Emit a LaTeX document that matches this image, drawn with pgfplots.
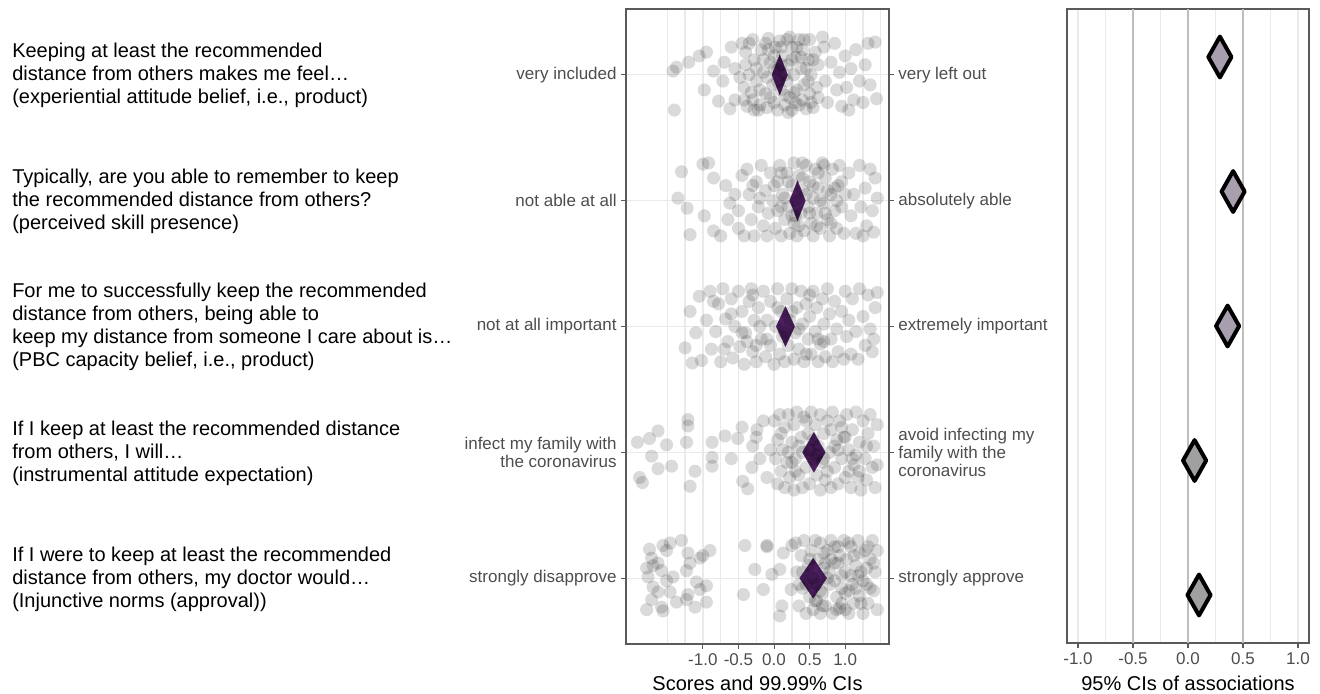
\documentclass[border=0pt]{standalone}
\usepackage{fontspec}
\setmainfont{Liberation Sans}
\usepackage{pgfplots}
\pgfplotsset{compat=1.18}

\definecolor{tickgray}{RGB}{77,77,77}
\definecolor{framegray}{RGB}{90,90,90}
\definecolor{gridlight}{RGB}{234,234,234}
\definecolor{griddark}{RGB}{190,190,190}
\definecolor{meanpurple}{RGB}{77,31,97}
\definecolor{lavgray}{RGB}{168,158,174}
\definecolor{midgray}{RGB}{160,160,160}

\newcommand\qfont{\fontsize{15}{17.25}\selectfont}
\newcommand\tfont{\fontsize{12.75}{13.2}\selectfont}

\pgfplotsset{
  pts/.style={only marks, mark=*, mark size=4.9pt,
    mark options={fill=black, draw=black, fill opacity=0.145, draw opacity=0, line width=0pt}},
  meandia/.style={fill=meanpurple, draw=meanpurple, line width=0.2pt, mark=none},
  panel/.style={scale only axis, clip=false,
    axis line style={draw=framegray, line width=0.8pt},
    tick align=outside, major tick length=3.5pt, minor tick length=0pt,
    tick style={draw=framegray, line width=0.8pt},
    ticklabel style={font=\tfont, text=tickgray},
    /pgf/number format/fixed, /pgf/number format/fixed zerofill,
    /pgf/number format/precision=1, /pgf/number format/assume math mode=true,
    xlabel style={font=\qfont, text=black, at={(axis description cs:0.5,0)}, anchor=base},
  },
}

\begin{document}
\begin{tikzpicture}
\useasboundingbox (0,0) rectangle (990pt,-519.75pt);

% question texts
\node[anchor=west, align=left, inner sep=0, font=\qfont] at (12*0.75pt,-75*0.75pt)
  {Keeping at least the recommended\\distance from others makes me feel…\\(experiential attitude belief, i.e., product)};
\node[anchor=west, align=left, inner sep=0, font=\qfont] at (12*0.75pt,-201*0.75pt)
  {Typically, are you able to remember to keep\\the recommended distance from others?\\(perceived skill presence)};
\node[anchor=west, align=left, inner sep=0, font=\qfont] at (12*0.75pt,-327*0.75pt)
  {For me to successfully keep the recommended\\distance from others, being able to\\keep my distance from someone I care about is…\\(PBC capacity belief, i.e., product)};
\node[anchor=west, align=left, inner sep=0, font=\qfont] at (12*0.75pt,-453*0.75pt)
  {If I keep at least the recommended distance\\from others, I will…\\(instrumental attitude expectation)};
\node[anchor=west, align=left, inner sep=0, font=\qfont] at (12*0.75pt,-579*0.75pt)
  {If I were to keep at least the recommended\\distance from others, my doctor would…\\(Injunctive norms (approval))};

% middle panel: scores
\begin{axis}[panel,
  at={(626*0.75pt,-644*0.75pt)}, anchor=south west,
  width=197.25pt, height=476.25pt,
  xmin=-2.08, xmax=1.615, ymin=0.477, ymax=5.523,
  xtick={-1,-0.5,0,0.5,1},
  minor xtick={-1.5,-1.25,-0.75,-0.25,0.25,0.75,1.25,1.5},
  xmajorgrids, xminorgrids, ymajorgrids,
  major grid style={draw=gridlight, line width=1pt},
  minor grid style={draw=gridlight, line width=1pt},
  xtick pos=bottom, ytick pos=left,
  ytick={1,2,3,4,5},
  yticklabels={strongly disapprove, {infect my family with\\the coronavirus}, not at all important, not able at all, very included},
  yticklabel style={align=right},
  xlabel={Scores and 99.99\% CIs},
  xlabel style={yshift=-34.5pt},
]
% row 5 (top): experiential attitude
\addplot[pts] coordinates {
(-1.42,5.03) (-1.37,5.06) (-1.40,4.72) (-1.20,5.10) (-1.05,5.15) (-0.95,5.18) (-0.98,4.88) (-0.72,4.95)
(-0.70,5.10) (-0.60,5.22) (-0.55,4.80) (-0.78,4.79) (-0.62,4.73) (-0.85,5.03) (-0.55,5.05)
(-0.45,5.25) (-0.40,5.08) (-0.42,4.90) (-0.38,4.75) (-0.30,5.28) (-0.28,5.12) (-0.25,4.95) (-0.30,4.80)
(-0.22,4.72) (-0.18,5.20) (-0.15,5.02) (-0.12,4.85) (-0.10,4.74) (-0.08,5.29) (-0.05,5.10) (-0.02,4.92)
(0.00,4.78) (0.02,5.22) (0.05,5.04) (0.05,4.72) (0.08,5.27) (0.10,4.88) (0.12,5.15) (0.15,4.76)
(0.18,5.28) (0.18,4.95) (0.20,5.08) (0.22,4.82) (0.25,5.22) (0.25,4.72) (0.28,5.00) (0.30,5.14)
(0.32,4.88) (0.35,5.28) (0.35,4.76) (0.38,5.05) (0.40,5.20) (0.42,4.92) (0.45,4.73) (0.48,5.12)
(0.50,5.28) (0.50,4.85) (0.52,5.00) (0.55,4.74) (0.58,5.18) (0.60,4.90) (0.62,5.08) (-0.35,5.00)
(-0.20,4.88) (0.00,5.15) (0.15,5.00) (0.30,4.78) (0.45,5.05) (-0.10,4.98) (0.20,4.70)
(0.70,5.22) (0.72,4.95) (0.75,4.78) (0.80,5.10) (0.85,5.25) (0.88,4.88) (0.92,5.02) (0.95,4.75)
(1.00,5.15) (1.02,4.90) (1.08,5.05) (1.12,4.80) (1.15,5.20) (1.20,4.95) (1.25,4.78) (1.28,5.08)
(1.32,5.25) (1.35,4.92) (1.42,5.26) (1.44,4.81) (0.68,5.30) (1.05,4.72)
(-0.40,5.18) (-0.32,4.86) (-0.15,5.12) (-0.05,4.82) (0.10,5.08) (0.28,4.86) (0.40,4.80) (0.55,5.12)
(-0.48,4.98) (-0.25,5.05) (0.05,4.95) (0.32,5.22) (0.48,4.95) (0.62,4.82) (-0.12,5.25) (0.22,5.30)
(-0.35,5.25) (-0.20,4.76) (0.00,5.05) (0.15,4.84) (0.38,5.14) (0.52,4.78) (-0.42,4.80) (0.25,5.12)
(-0.08,5.20) (0.42,5.28) (-0.28,4.72) (0.10,5.22)
};
% row 4: perceived skill
\addplot[pts] coordinates {
(-1.35,4.02) (-1.30,4.23) (-1.22,3.94) (-1.18,3.73) (-1.00,4.29) (-0.92,4.30) (-0.98,3.88) (-0.85,3.76)
(-0.75,3.72) (-0.68,4.12) (-0.62,3.98) (-0.55,4.05) (-0.50,3.78) (-0.45,4.20) (-0.50,3.92) (-0.42,3.72)
(-0.85,4.18) (-0.65,3.85)
(-0.38,4.25) (-0.35,4.05) (-0.32,3.85) (-0.28,3.72) (-0.25,4.15) (-0.22,3.95) (-0.18,4.28) (-0.15,3.80)
(-0.12,4.08) (-0.10,3.72) (-0.08,3.90) (-0.05,4.22) (-0.02,4.00) (-0.20,4.02) (-0.30,4.12)
(0.02,3.78) (0.05,4.15) (0.05,3.92) (0.08,4.28) (0.10,3.72) (0.12,4.05) (0.15,3.85) (0.18,4.22)
(0.20,3.95) (0.22,3.74) (0.25,4.12) (0.28,4.30) (0.28,3.82) (0.30,4.00) (0.32,3.72) (0.35,4.20)
(0.38,3.90) (0.40,4.08) (0.42,3.76) (0.45,4.28) (0.48,3.95) (0.50,4.15) (0.52,3.82) (0.55,4.02)
(0.55,3.72) (0.58,4.25) (0.60,3.90) (0.62,4.10) (0.65,3.78) (0.68,4.30) (0.70,3.98) (0.72,4.18)
(0.75,3.85) (0.78,3.72) (0.80,4.05) (0.82,4.25) (0.85,3.92) (0.88,3.78) (0.90,4.12) (0.92,4.28)
(0.95,3.95) (0.98,3.74) (1.00,4.05) (0.15,4.02) (0.35,3.80) (0.45,4.05) (0.65,4.00) (0.75,4.08)
(0.25,3.88) (0.85,4.10) (0.10,4.22) (0.60,3.80) (0.40,4.30) (0.70,4.28)
(1.05,4.22) (1.08,3.88) (1.12,4.05) (1.15,3.74) (1.20,4.28) (1.22,3.95) (1.28,4.10) (1.30,3.80)
(1.35,4.25) (1.38,3.92) (1.40,3.75) (1.42,4.18) (1.45,4.02) (1.25,3.72)
(0.00,4.12) (0.20,4.15) (0.30,3.88) (0.50,3.90) (0.62,4.22) (0.80,3.82) (0.95,4.15) (0.10,3.95)
(0.40,4.18) (0.72,3.90) (0.88,4.00) (0.55,4.12)
};
% row 3: PBC capacity
\addplot[pts] coordinates {
(-1.25,2.83) (-1.15,2.71) (-1.18,3.12) (-1.05,3.24) (-1.10,2.95) (-1.02,2.73) (-0.95,3.05) (-0.90,3.28)
(-0.88,2.82) (-0.82,2.96) (-0.78,3.18) (-0.75,2.72) (-0.72,3.30) (-0.68,3.06) (-0.65,2.88) (-0.60,3.22)
(-0.58,2.75) (-0.55,3.00) (-0.50,3.28) (-0.48,2.84) (-0.45,3.12) (-0.42,2.70) (-0.40,2.95) (-0.35,3.20)
(-0.32,3.30) (-0.30,2.80) (-0.28,3.05) (-0.25,2.72) (-0.22,3.15) (-0.18,2.90) (-0.15,3.28) (-0.12,2.76)
(-0.10,3.05) (-0.05,3.20) (-0.05,2.85) (0.00,2.70) (0.02,3.00) (0.05,3.30) (0.08,2.78) (0.10,3.12)
(0.12,2.92) (0.15,2.72) (0.18,3.22) (0.20,2.85) (0.22,3.05) (0.25,3.30) (0.28,2.74) (0.30,2.95)
(0.32,3.15) (0.35,2.82) (0.38,3.28) (0.40,3.02) (0.42,2.72) (0.45,3.18) (0.48,2.90) (0.50,3.08)
(0.52,2.78) (0.55,3.28) (0.58,2.96) (0.60,3.15) (0.62,2.72) (0.65,2.86) (0.68,3.22) (0.70,3.02)
(0.72,2.76) (0.75,3.30) (0.78,3.10) (0.80,2.90) (0.82,2.72) (0.85,3.20) (0.88,2.98) (0.90,2.80)
(0.95,3.12) (0.98,2.74) (1.00,3.28) (1.02,2.92) (1.05,3.05) (1.08,2.78) (1.10,3.22) (1.15,2.96)
(1.18,2.74) (1.20,3.30) (1.25,3.08) (1.28,2.85) (1.32,3.25) (1.35,2.98) (1.38,2.80) (1.42,3.15)
(1.45,3.27) (1.40,2.90) (-0.70,2.82) (-0.20,3.00) (0.25,3.12) (0.70,2.88) (-0.38,2.88)
(-0.60,3.10) (-0.45,2.95) (-0.30,3.25) (-0.10,2.90) (0.05,3.15) (0.35,2.98) (0.50,3.25) (0.62,2.90)
(-0.85,3.20) (-0.25,2.85) (0.15,2.95) (0.45,2.78)
};
% row 2: instrumental attitude
\addplot[pts] coordinates {
(-1.92,2.08) (-1.89,1.80) (-1.85,1.76) (-1.75,2.11) (-1.72,1.97) (-1.63,2.17) (-1.63,1.87) (-1.51,2.06)
(-1.44,1.89) (-1.21,2.26) (-1.21,2.21) (-1.23,2.08) (-1.18,1.73) (-1.11,1.85) (-0.87,2.08) (-0.87,1.96)
(-0.87,1.89) (-0.69,2.13) (-0.51,2.11) (-0.44,1.77) (-0.37,1.71) (-0.31,1.88) (-0.24,2.18)
(-0.30,2.05) (-0.20,1.95) (-0.15,2.25) (-0.10,1.80) (-0.25,2.12) (-0.05,2.02) (-0.45,2.20) (-0.60,1.95)
(0.00,2.25) (0.02,1.95) (0.05,1.75) (0.05,2.10) (0.08,2.30) (0.10,1.85) (0.12,2.02) (0.15,1.72)
(0.15,2.20) (0.18,1.92) (0.20,2.30) (0.22,1.80) (0.25,2.08) (0.28,1.70) (0.28,2.22) (0.30,1.95)
(0.32,2.32) (0.35,1.82) (0.38,2.12) (0.40,1.72) (0.40,2.00) (0.42,2.28) (0.45,1.88) (0.48,2.15)
(0.50,1.75) (0.52,2.32) (0.55,1.95) (0.58,2.22) (0.60,1.82) (0.62,2.05) (0.65,1.70) (0.65,2.30)
(0.68,1.92) (0.70,2.15) (0.72,1.78) (0.75,2.25) (0.78,2.00) (0.80,1.72) (0.82,2.32) (0.85,1.88)
(0.88,2.10) (0.90,1.75) (0.92,2.25) (0.95,1.95) (0.98,2.12) (1.00,1.80) (1.02,2.30) (1.05,2.02)
(1.08,1.72) (1.10,2.18) (1.12,1.90) (1.15,2.32) (1.18,1.80) (1.20,2.08) (1.22,1.70) (1.25,2.25)
(1.28,1.95) (1.30,1.78) (1.32,2.15) (1.35,2.30) (1.38,1.88) (1.40,2.05) (1.42,1.72) (1.45,2.22)
(1.45,1.90) (0.35,2.05) (0.55,2.10) (0.75,1.85) (0.95,2.20) (0.20,2.00) (0.85,2.05) (1.15,1.98)
(0.60,1.98) (1.05,1.85)
(0.10,2.15) (0.30,1.85) (0.50,2.02) (0.70,1.95) (0.90,2.02) (1.10,1.95) (1.30,2.05) (0.45,2.25)
(0.80,2.18) (1.00,2.12) (0.25,1.92) (1.20,1.85)
};
% row 1 (bottom): injunctive norms
\addplot[pts] coordinates {
(-1.75,1.23) (-1.72,1.16) (-1.56,1.26) (-1.51,1.22) (-1.46,1.28) (-1.30,1.30) (-1.21,1.20) (-1.18,1.12)
(-1.04,1.16) (-1.00,1.18) (-0.90,1.22) (-1.79,1.08) (-1.70,1.10) (-1.63,1.12) (-1.58,1.06) (-1.77,1.01)
(-1.70,0.93) (-1.51,0.98) (-1.42,1.01) (-1.23,1.06) (-1.09,0.97) (-1.04,0.91) (-0.95,0.94) (-1.72,0.83)
(-1.79,0.75) (-1.58,0.77) (-1.56,0.74) (-1.37,0.81) (-1.23,0.83) (-1.11,0.77) (-0.95,0.81) (-1.46,0.89)
(-1.21,0.87) (-1.63,0.89)
(-0.41,1.26) (-0.10,1.26) (-0.10,1.25) (-0.43,0.87) (-0.15,0.91) (0.11,0.78) (0.08,1.07) (0.13,1.20)
(0.25,1.26) (-0.27,1.07) (-0.03,1.03) (0.08,0.70) (0.24,0.91)
(0.30,1.28) (0.32,1.05) (0.35,0.78) (0.38,1.18) (0.40,0.92) (0.42,1.30) (0.45,0.72) (0.48,1.10)
(0.50,0.85) (0.52,1.22) (0.55,0.75) (0.58,1.30) (0.60,0.95) (0.62,1.15) (0.65,0.72) (0.65,1.28)
(0.68,0.88) (0.70,1.08) (0.72,0.78) (0.75,1.22) (0.78,0.95) (0.80,1.30) (0.82,0.72) (0.85,1.12)
(0.88,0.85) (0.90,1.25) (0.92,0.76) (0.95,1.02) (0.98,1.30) (1.00,0.88) (1.02,1.15) (1.05,0.72)
(1.08,1.25) (1.10,0.95) (1.12,0.80) (1.15,1.10) (1.18,1.30) (1.20,0.86) (1.22,1.05) (1.25,0.72)
(1.28,1.22) (1.30,0.95) (1.32,0.80) (1.35,1.15) (1.38,1.30) (1.40,0.90) (1.42,1.05) (1.45,0.75)
(1.45,1.22) (0.40,1.05) (0.55,1.00) (0.70,1.20) (0.85,0.98) (1.00,1.05) (1.15,0.92) (1.30,1.08)
(0.60,0.82) (0.90,1.12) (0.75,1.00) (1.05,1.28) (0.45,0.95) (0.95,0.80) (1.25,0.98) (0.35,0.95)
(0.80,1.15)
(0.50,1.15) (0.65,0.90) (0.85,1.25) (1.00,0.75) (1.12,1.18) (1.35,0.92) (0.72,1.12) (0.95,0.92)
(1.20,1.20) (1.40,1.12) (0.58,0.82) (1.08,1.02)
(0.78,1.05) (0.92,1.18) (1.05,0.90) (1.18,1.02) (1.32,1.25) (0.68,0.78) (0.88,0.75) (1.22,0.80)
};
% means with 99.99% CIs
\addplot[meandia] coordinates {(-0.03,5) (0.08,5.159) (0.19,5) (0.08,4.841) (-0.03,5)};
\addplot[meandia] coordinates {(0.22,4) (0.33,4.159) (0.44,4) (0.33,3.841) (0.22,4)};
\addplot[meandia] coordinates {(0.03,3) (0.16,3.159) (0.29,3) (0.16,2.841) (0.03,3)};
\addplot[meandia] coordinates {(0.40,2) (0.56,2.159) (0.72,2) (0.56,1.841) (0.40,2)};
\addplot[meandia] coordinates {(0.36,1) (0.55,1.159) (0.74,1) (0.55,0.841) (0.36,1)};
\end{axis}

% right-hand anchor labels of the middle panel
\begin{axis}[panel,
  at={(626*0.75pt,-644*0.75pt)}, anchor=south west,
  width=197.25pt, height=476.25pt,
  xmin=-2.08, xmax=1.615, ymin=0.477, ymax=5.523,
  axis x line=none, axis y line*=right,
  ytick={1,2,3,4,5},
  yticklabels={strongly approve, {avoid infecting my\\family with the\\coronavirus}, extremely important, absolutely able, very left out},
  yticklabel style={align=left},
]
\addplot[draw=none] coordinates {(0,3)};
\end{axis}

% right panel: associations
\begin{axis}[panel,
  at={(1067*0.75pt,-643*0.75pt)}, anchor=south west,
  width=181.5pt, height=475.5pt,
  xmin=-1.1, xmax=1.1, ymin=0.643, ymax=5.357,
  xtick={-1,-0.5,0,0.5,1}, ytick=\empty,
  xtick pos=bottom,
  minor xtick={-1,-0.75,-0.25,0.25,0.75,1},
  xminorgrids,
  minor grid style={draw=gridlight, line width=1pt},
  extra x ticks={-0.5,0,0.5}, extra x tick labels={},
  extra x tick style={grid=major, major grid style={draw=griddark, line width=1.5pt}},
  xlabel={95\% CIs of associations},
  xlabel style={yshift=-35.25pt},
]
\addplot[fill=lavgray, draw=black, line width=3pt, line join=round, line cap=round]
  coordinates {(0.185,5) (0.29,5.152) (0.395,5) (0.29,4.848) (0.185,5)};
\addplot[fill=lavgray, draw=black, line width=3pt, line join=round, line cap=round]
  coordinates {(0.305,4) (0.41,4.152) (0.515,4) (0.41,3.848) (0.305,4)};
\addplot[fill=lavgray, draw=black, line width=3pt, line join=round, line cap=round]
  coordinates {(0.255,3) (0.36,3.152) (0.465,3) (0.36,2.848) (0.255,3)};
\addplot[fill=midgray, draw=black, line width=3pt, line join=round, line cap=round]
  coordinates {(-0.045,2) (0.06,2.152) (0.165,2) (0.06,1.848) (-0.045,2)};
\addplot[fill=midgray, draw=black, line width=3pt, line join=round, line cap=round]
  coordinates {(-0.005,1) (0.10,1.152) (0.205,1) (0.10,0.848) (-0.005,1)};
\end{axis}
\end{tikzpicture}
\end{document}
